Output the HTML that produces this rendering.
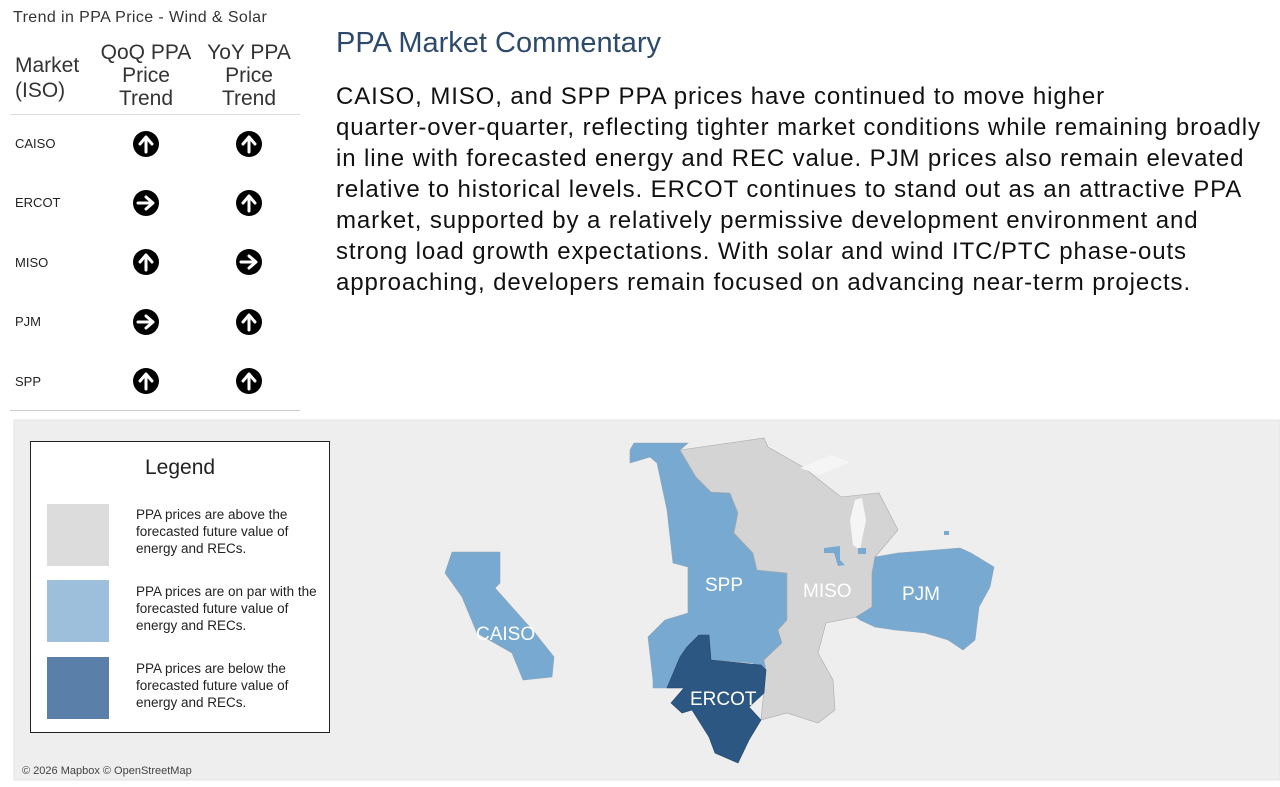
<!DOCTYPE html>
<html><head><meta charset="utf-8"><style>
body{margin:0;width:1280px;height:787px;background:#fff;font-family:"Liberation Sans",sans-serif;position:relative;overflow:hidden;color:#222}
.a{position:absolute;white-space:nowrap}
.body{left:336px;top:81px;font-size:24px;letter-spacing:0.9px;line-height:31px;color:#111}
.lt{position:absolute;font-size:13.5px;line-height:17px;color:#222;white-space:nowrap}
</style></head><body>
<div class="a" style="left:13px;top:9px;font-size:16px;letter-spacing:0.4px;color:#333">Trend in PPA Price - Wind &amp; Solar</div>
<div class="a" style="left:15px;top:53px;font-size:21px;line-height:25px;color:#333">Market<br>(ISO)</div>
<div class="a" style="left:96px;top:41px;width:100px;text-align:center;font-size:21px;line-height:23px;color:#333">QoQ PPA<br>Price<br>Trend</div>
<div class="a" style="left:199px;top:41px;width:100px;text-align:center;font-size:21px;line-height:23px;color:#333">YoY PPA<br>Price<br>Trend</div>
<div class="a" style="left:10px;top:114px;width:290px;height:1px;background:#ddd"></div>
<div class="a" style="left:10px;top:410px;width:290px;height:1px;background:#ccc"></div>
<div class="a" style="left:15px;top:136px;font-size:13px">CAISO</div>
<div class="a" style="left:15px;top:195px;font-size:13px">ERCOT</div>
<div class="a" style="left:15px;top:255px;font-size:13px">MISO</div>
<div class="a" style="left:15px;top:314px;font-size:13px">PJM</div>
<div class="a" style="left:15px;top:374px;font-size:13px">SPP</div>
<svg class="a" style="left:0;top:0" width="310" height="410">
<defs>
<g id="up"><circle r="13" fill="#000"/><path d="M0,8V-6M-6,0L0,-7L6,0" stroke="#fff" stroke-width="3" fill="none" stroke-linecap="round" stroke-linejoin="round"/></g>
<g id="rt"><circle r="13" fill="#000"/><path d="M-8,0H6M0,-6L7,0L0,6" stroke="#fff" stroke-width="3" fill="none" stroke-linecap="round" stroke-linejoin="round"/></g>
</defs>
<use href="#up" x="146" y="144"/><use href="#up" x="249" y="144"/>
<use href="#rt" x="146" y="203"/><use href="#up" x="249" y="203"/>
<use href="#up" x="146" y="262"/><use href="#rt" x="249" y="262"/>
<use href="#rt" x="146" y="322"/><use href="#up" x="249" y="322"/>
<use href="#up" x="146" y="381"/><use href="#up" x="249" y="381"/>
</svg>
<div class="a" style="left:336px;top:27px;font-size:29px;color:#2e4a6b">PPA Market Commentary</div>
<div class="a body">CAISO, MISO, and SPP PPA prices have continued to move higher<br>quarter-over-quarter, reflecting tighter market conditions while remaining broadly<br>in line with forecasted energy and REC value. PJM prices also remain elevated<br>relative to historical levels. ERCOT continues to stand out as an attractive PPA<br>market, supported by a relatively permissive development environment and<br>strong load growth expectations. With solar and wind ITC/PTC phase-outs<br>approaching, developers remain focused on advancing near-term projects.</div>

<svg class="a" style="left:0;top:0" width="1280" height="787">
<rect x="14" y="420" width="1266" height="360" fill="#eeeeee" stroke="#e4e4e4"/>
<!-- SPP -->
<polygon fill="#78a9d0" stroke="#8fa5b8" stroke-width="0.6" points="634,443 688,443 680,450 696,477 711,492 730,493 738,513 734,533 753,553 757,570 787,573 787,620 778,630 782,643 764,660 780,683 764,687 753,663 711,660 709,635 699,635 687,647 680,657 667,688 653,688 653,680 648,637 665,620 688,613 688,567 673,563 667,510 657,463 650,457 630,463 630,450"/>
<!-- MISO -->
<polygon fill="#d4d4d4" stroke="#aaa" stroke-width="0.6" points="680,450 764,438 768,447 803,467 841,497 879,493 898,530 875,557 875,607 856,617 826,623 818,653 833,680 835,710 818,723 787,713 761,720 766,670 764,660 782,643 778,630 787,620 787,573 757,570 753,553 734,533 738,513 730,493 711,492 696,477"/>
<path d="M855,500 L862,498 L866,520 L860,550 L853,545 L850,520 Z" fill="#f5f5f5"/>
<path d="M800,468 L830,455 L850,462 L820,475 Z" fill="#f5f5f5"/>
<!-- PJM -->
<polygon fill="#78a9d0" stroke="#8fa5b8" stroke-width="0.6" points="875,557 898,553 960,548 971,553 994,567 990,587 979,607 975,640 963,650 948,640 925,633 895,630 875,627 860,620 856,617 872,607 872,573"/>
<polygon fill="#78a9d0" points="824,548 840,546 840,560 845,565 838,566 834,553 824,553"/>
<rect x="858" y="548" width="8" height="6" fill="#78a9d0"/>
<rect x="944" y="531" width="5" height="4" fill="#78a9d0"/>
<!-- CAISO -->
<polygon fill="#78a9d0" stroke="#8fa5b8" stroke-width="0.6" points="452,552 500,552 500,583 495,588 535,633 554,657 552,677 523,680 512,653 477,633 462,597 445,573"/>
<!-- ERCOT -->
<polygon fill="#2c5783" stroke="#23466a" stroke-width="0.6" points="699,635 709,635 711,660 761,665 766,670 764,693 749,707 761,720 749,740 738,763 715,753 709,737 692,710 682,713 671,703 684,688 667,688 680,657 687,647"/>
<g fill="#fff" font-family="Liberation Sans,sans-serif" font-size="19">
<text x="476" y="640">CAISO</text><text x="705" y="591">SPP</text><text x="803" y="597">MISO</text><text x="902" y="600">PJM</text><text x="690" y="705">ERCOT</text>
</g>
<text x="22" y="774" font-size="11" fill="#444" font-family="Liberation Sans,sans-serif">© 2026 Mapbox © OpenStreetMap</text>
<rect x="30.5" y="441.5" width="299" height="291" fill="#fff" stroke="#222"/>
<text x="145" y="474" font-size="21" fill="#222" font-family="Liberation Sans,sans-serif">Legend</text>
<rect x="47" y="504" width="62" height="62" fill="#dcdcdc"/>
<rect x="47" y="580" width="62" height="62" fill="#9dbfdc"/>
<rect x="47" y="657" width="62" height="62" fill="#5a7fa8"/>
</svg>
<div class="lt" style="left:136px;top:506px">PPA prices are above the<br>forecasted future value of<br>energy and RECs.</div>
<div class="lt" style="left:136px;top:583px">PPA prices are on par with the<br>forecasted future value of<br>energy and RECs.</div>
<div class="lt" style="left:136px;top:660px">PPA prices are below the<br>forecasted future value of<br>energy and RECs.</div>
</body></html>
